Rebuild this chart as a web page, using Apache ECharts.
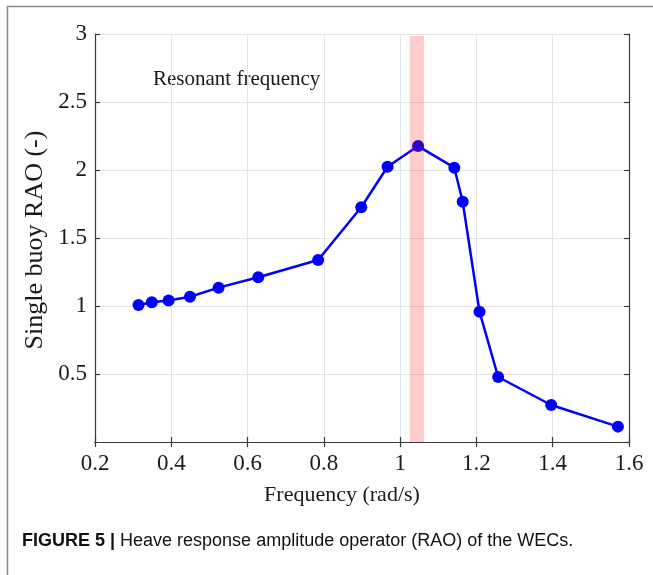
<!DOCTYPE html>
<html>
<head>
<meta charset="utf-8">
<script src="https://cdn.jsdelivr.net/npm/echarts@6/dist/echarts.min.js"></script>
<style>
html,body{margin:0;padding:0;background:#fff;}
#chart{width:653px;height:575px;}
</style>
</head>
<body>
<div id="chart"></div>
<script>
// Data
var frequency = [0.314, 0.349, 0.393, 0.449, 0.524, 0.628, 0.785, 0.898, 0.967, 1.047, 1.142, 1.164, 1.208, 1.257, 1.396, 1.571];
var rao       = [1.007, 1.027, 1.040, 1.068, 1.135, 1.211, 1.338, 1.726, 2.024, 2.176, 2.017, 1.767, 0.958, 0.478, 0.272, 0.113];
var resonantBand = [1.025, 1.063];
var bandTop = 2.985;
var xTitle = 'Frequency (rad/s)';
var yTitle = 'Single buoy RAO (-)';
var bandLabel = 'Resonant frequency';
var captionBold = 'FIGURE 5 | ';
var captionText = 'Heave response amplitude operator (RAO) of the WECs.';

var serif = 'Liberation Serif';
var points = frequency.map(function (f, i) { return [f, rao[i]]; });

var chart = echarts.init(document.getElementById('chart'), null, {renderer: 'canvas'});
var axisLineStyle = {color: '#3a3a3a', width: 1.2};
chart.setOption({
  animation: false,
  backgroundColor: '#ffffff',
  grid: {left: 95, right: 24, top: 34, bottom: 133, containLabel: false},
  xAxis: [{
    type: 'value', min: 0.2, max: 1.6, interval: 0.2, position: 'bottom',
    axisLine: {show: true, lineStyle: axisLineStyle},
    axisTick: {show: true, inside: true, length: 5, lineStyle: axisLineStyle},
    splitLine: {show: true, lineStyle: {color: '#e4e4e4', width: 1}},
    axisLabel: {color: '#1a1a1a', fontFamily: serif, fontSize: 23, margin: 10}
  }, {
    type: 'value', min: 0.2, max: 1.6, interval: 0.2, position: 'top',
    axisLine: {show: true, lineStyle: axisLineStyle},
    axisTick: {show: true, inside: true, length: 5, lineStyle: axisLineStyle},
    splitLine: {show: false}, axisLabel: {show: false}
  }],
  yAxis: [{
    type: 'value', min: 0, max: 3, interval: 0.5, position: 'left',
    axisLine: {show: true, lineStyle: axisLineStyle},
    axisTick: {show: true, inside: true, length: 5, lineStyle: axisLineStyle},
    splitLine: {show: true, lineStyle: {color: '#e4e4e4', width: 1}},
    axisLabel: {color: '#1a1a1a', fontFamily: serif, fontSize: 23, margin: 8, showMinLabel: false}
  }, {
    type: 'value', min: 0, max: 3, interval: 0.5, position: 'right',
    axisLine: {show: true, lineStyle: axisLineStyle},
    axisTick: {show: true, inside: true, length: 5, lineStyle: axisLineStyle},
    splitLine: {show: false}, axisLabel: {show: false}
  }],
  series: [{
    type: 'line',
    data: points,
    xAxisIndex: 0, yAxisIndex: 0,
    z: 2,
    symbol: 'circle', symbolSize: 12,
    lineStyle: {color: '#0000ff', width: 2.5},
    itemStyle: {color: '#0000ff'}
  }, {
    type: 'custom',
    xAxisIndex: 0, yAxisIndex: 0,
    z: 10,
    silent: true,
    data: [[resonantBand[0], resonantBand[1], bandTop]],
    renderItem: function (params, api) {
      var p0 = api.coord([api.value(0), 0]);
      var p1 = api.coord([api.value(1), api.value(2)]);
      return {
        type: 'rect',
        shape: {x: p0[0], y: p1[1], width: p1[0] - p0[0], height: p0[1] - p1[1]},
        style: {fill: 'rgba(255,0,0,0.2)'}
      };
    }
  }],
  graphic: [
    {type: 'line', shape: {x1: 7, y1: 6.5, x2: 653, y2: 6.5}, style: {stroke: '#8a8a8a', lineWidth: 1.5}, silent: true},
    {type: 'line', shape: {x1: 7.5, y1: 6, x2: 7.5, y2: 575}, style: {stroke: '#8a8a8a', lineWidth: 1.5}, silent: true},
    {type: 'text', left: 153, top: 69, style: {text: bandLabel, fontFamily: serif, fontSize: 21, fill: '#1a1a1a'}},
    {type: 'text', x: 35, y: 240, rotation: Math.PI / 2,
     style: {text: yTitle, fontFamily: serif, fontSize: 26, fill: '#1a1a1a', align: 'center', verticalAlign: 'middle'}},
    {type: 'text', x: 342, y: 495,
     style: {text: xTitle, fontFamily: serif, fontSize: 22, fill: '#1a1a1a', align: 'center', verticalAlign: 'middle'}},
    {type: 'text', left: 22, top: 532,
     style: {
       text: '{b|' + captionBold + '}{n|' + captionText + '}',
       rich: {
         b: {fontFamily: 'Liberation Sans', fontWeight: 'bold', fontSize: 18, fill: '#111'},
         n: {fontFamily: 'Liberation Sans', fontSize: 18, fill: '#111'}
       }
     }}
  ]
});
</script>
</body>
</html>
